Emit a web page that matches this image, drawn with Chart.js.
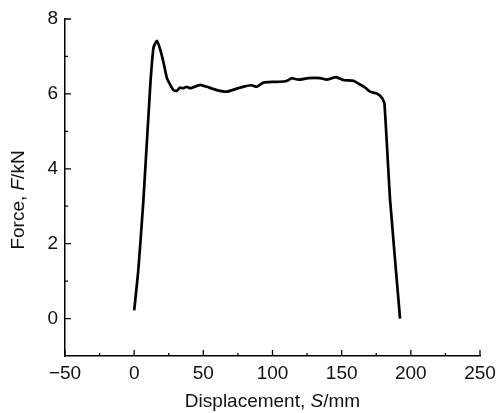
<!DOCTYPE html>
<html lang="en">
<head>
    <meta charset="UTF-8">
    <title>Force vs Displacement</title>
    <script src="https://cdn.jsdelivr.net/npm/chart.js"></script>
    <style>
        html, body { margin: 0; padding: 0; background: #fff; }
        .chart-container { width: 497px; height: 413px; }
    </style>
</head>
<body>
    <div class="chart-container"><canvas id="forceChart"></canvas></div>

    <script>
        // displacement S (mm) and force F (kN)
        const displacement = [0, 2.9, 6.7, 11.6, 14, 16.4, 18.8, 21.2, 23.6, 26, 28.4, 30.8, 33.2, 35.5, 38, 40.5, 42.9, 47.7,
            52.5, 59.8, 67, 74.2, 80, 85, 88.6, 93.4, 100.7, 107.9, 111, 113.9, 118.7, 126, 134.4, 139.2, 146, 151.2,
            158.4, 163.3, 166.9, 170.5, 175.4, 179, 180.9, 185, 192.2];
        const force = [0.22, 1.25, 3.17, 6.2, 7.24, 7.42, 7.19, 6.84, 6.43, 6.25, 6.1, 6.08, 6.17, 6.15, 6.19, 6.15, 6.18, 6.24,
            6.19, 6.1, 6.06, 6.14, 6.2, 6.23, 6.19, 6.3, 6.32, 6.33, 6.36, 6.42, 6.38, 6.42, 6.42, 6.38, 6.45, 6.37,
            6.35, 6.25, 6.17, 6.06, 6.01, 5.9, 5.75, 3.17, 0];

        const xTicks = [-50, 0, 50, 100, 150, 200, 250];
        const xMinorTicks = [-25, 25, 75, 125, 175, 225];
        const yTicks = [0, 2, 4, 6, 8];
        const yMinorTicks = [1, 3, 5, 7];

        const FONT = '"Liberation Sans", Arial, sans-serif';

        // inward tick marks + axis titles with italic symbols
        const axisDecor = {
            id: 'axisDecor',
            afterDraw(chart) {
                const ctx = chart.ctx;
                const xs = chart.scales.x, ys = chart.scales.y;
                const area = chart.chartArea;
                ctx.save();
                ctx.strokeStyle = '#000';
                ctx.lineWidth = 1.3;
                ctx.beginPath();
                xTicks.forEach(v => { const p = xs.getPixelForValue(v); ctx.moveTo(p, area.bottom); ctx.lineTo(p, area.bottom - 6); });
                xMinorTicks.forEach(v => { const p = xs.getPixelForValue(v); ctx.moveTo(p, area.bottom); ctx.lineTo(p, area.bottom - 3); });
                yTicks.forEach(v => { const p = ys.getPixelForValue(v); ctx.moveTo(area.left, p); ctx.lineTo(area.left + 6, p); });
                yMinorTicks.forEach(v => { const p = ys.getPixelForValue(v); ctx.moveTo(area.left, p); ctx.lineTo(area.left + 3, p); });
                ctx.stroke();

                ctx.fillStyle = '#111';
                ctx.textBaseline = 'middle';
                function drawParts(parts, cx, cy) {
                    let total = 0;
                    parts.forEach(p => { ctx.font = p[1] + ' 19px ' + FONT; total += ctx.measureText(p[0]).width; });
                    let x = cx - total / 2;
                    ctx.textAlign = 'left';
                    parts.forEach(p => { ctx.font = p[1] + ' 19px ' + FONT; ctx.fillText(p[0], x, cy); x += ctx.measureText(p[0]).width; });
                }
                drawParts([['Displacement, ', 'normal'], ['S', 'italic'], ['/mm', 'normal']], (area.left + area.right) / 2, 402);

                ctx.translate(19, 200);
                ctx.rotate(-Math.PI / 2);
                drawParts([['Force, ', 'normal'], ['F', 'italic'], ['/kN', 'normal']], 0, 0);
                ctx.restore();
            }
        };

        const points = displacement.map((s, i) => ({ x: s, y: force[i] }));
        const minusSign = v => String(v).replace('-', '\u2212');

        new Chart(document.getElementById('forceChart'), {
            type: 'scatter',
            data: {
                datasets: [{
                    data: points,
                    showLine: true,
                    borderColor: '#000',
                    borderWidth: 2.7,
                    pointRadius: 0,
                    tension: 0.15,
                    fill: false
                }]
            },
            options: {
                responsive: true,
                maintainAspectRatio: false,
                animation: false,
                layout: { padding: { top: 19, right: 17, left: 0, bottom: 0 } },
                plugins: { legend: { display: false }, tooltip: { enabled: false } },
                scales: {
                    x: {
                        type: 'linear',
                        min: -50, max: 250,
                        afterBuildTicks: s => { s.ticks = xTicks.map(v => ({ value: v })); },
                        afterFit: s => { s.height = 57; s.paddingLeft = 0; s.paddingRight = 0; },
                        grid: { display: false, drawTicks: false },
                        border: { display: true, color: '#000', width: 1.5 },
                        ticks: { color: '#111', font: { family: FONT, size: 19 }, padding: 6, maxRotation: 0, autoSkip: false, callback: minusSign }
                    },
                    y: {
                        type: 'linear',
                        min: -1, max: 8,
                        afterBuildTicks: s => { s.ticks = yTicks.map(v => ({ value: v })); },
                        afterFit: s => { s.width = 65; },
                        grid: { display: false, drawTicks: false },
                        border: { display: true, color: '#000', width: 1.5 },
                        ticks: { color: '#111', font: { family: FONT, size: 19 }, padding: 7, autoSkip: false }
                    }
                }
            },
            plugins: [axisDecor]
        });
    </script>
</body>
</html>
